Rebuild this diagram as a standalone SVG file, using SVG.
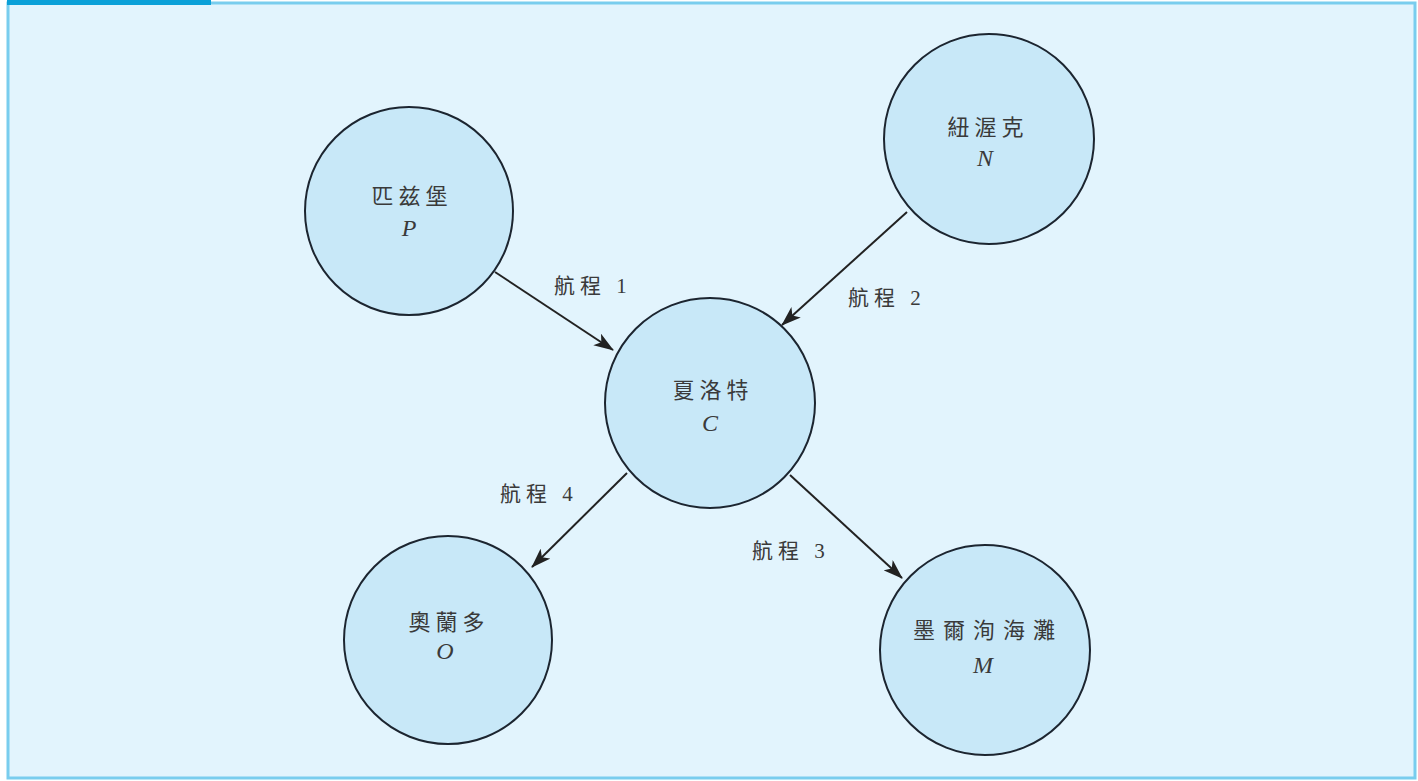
<svg xmlns="http://www.w3.org/2000/svg" width="1418" height="781" viewBox="0 0 1418 781">
<defs>
<style>
.node{fill:#c8e8f8;stroke:#1c2530;stroke-width:2}
.cj{font-family:"Liberation Serif","Noto Sans CJK TC",serif;font-size:22px;fill:#3a3a3a;text-anchor:middle;letter-spacing:5px}
.lt{font-family:"Liberation Serif",serif;font-size:24px;font-style:italic;fill:#3a3a3a;text-anchor:middle}
.lbl{font-family:"Liberation Serif","Noto Sans CJK TC",serif;font-size:21px;fill:#3a3a3a;letter-spacing:5px}
.edge{stroke:#222;stroke-width:2;fill:none;marker-end:url(#ah)}
</style>
<marker id="ah" viewBox="0 0 20 14" refX="19" refY="7" markerWidth="20" markerHeight="14" markerUnits="userSpaceOnUse" orient="auto">
<path d="M0,0 L20,7 L0,14 L5,7 Z" fill="#222"/>
</marker>
</defs>
<rect x="0" y="0" width="1418" height="781" fill="#ffffff"/>
<rect x="8" y="3" width="1407" height="775" fill="#e2f4fd" stroke="#79cdee" stroke-width="3"/>
<rect x="7" y="0" width="204" height="5" fill="#0aa0d8"/>
<g id="connectors">
<line class="edge" x1="495" y1="272" x2="613" y2="350"/>
<line class="edge" x1="907" y1="212" x2="782" y2="325"/>
<line class="edge" x1="790" y1="475" x2="902" y2="578"/>
<line class="edge" x1="627" y1="473" x2="532" y2="567"/>
<text class="lbl" x="554" y="293">航程 1</text>
<text class="lbl" x="848" y="305">航程 2</text>
<text class="lbl" x="752" y="558">航程 3</text>
<text class="lbl" x="500" y="501">航程 4</text>
</g>
<g id="node-P">
<circle class="node" cx="409" cy="211" r="104"/>
<text class="cj" x="412" y="204">匹兹堡</text>
<text class="lt" x="409" y="236">P</text>
</g>
<g id="node-N">
<circle class="node" cx="989" cy="139" r="105"/>
<text class="cj" x="988" y="135">紐渥克</text>
<text class="lt" x="985" y="166">N</text>
</g>
<g id="node-C">
<circle class="node" cx="710" cy="403" r="105"/>
<text class="cj" x="713" y="398">夏洛特</text>
<text class="lt" x="710" y="431">C</text>
</g>
<g id="node-O">
<circle class="node" cx="448" cy="640" r="104"/>
<text class="cj" x="449" y="630">奧蘭多</text>
<text class="lt" x="445" y="659">O</text>
</g>
<g id="node-M">
<circle class="node" cx="985" cy="650" r="105"/>
<text class="cj" x="988" y="638" style="letter-spacing:8px">墨爾洵海灘</text>
<text class="lt" x="983" y="673">M</text>
</g>
</svg>
